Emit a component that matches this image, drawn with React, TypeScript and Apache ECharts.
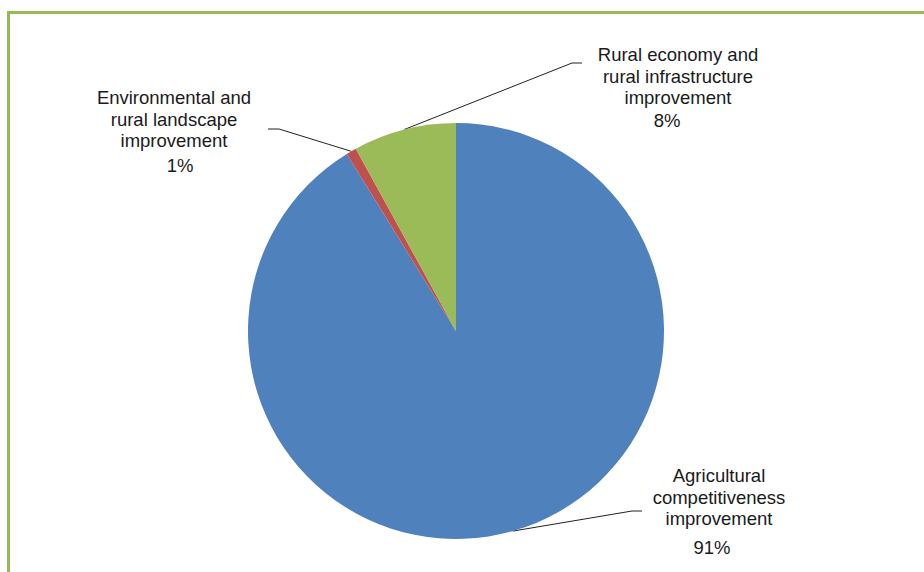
import React, { useEffect, useRef } from "react";
import * as echarts from "echarts";

const categories = [
  "Agricultural competitiveness improvement",
  "Environmental and rural landscape improvement",
  "Rural economy and rural infrastructure improvement",
];
const shares = [91.2, 0.8, 8.0];
const labelLines = [
  ["Agricultural", "competitiveness", "improvement"],
  ["Environmental and", "rural landscape", "improvement"],
  ["Rural economy and", "rural infrastructure", "improvement"],
];
const colors = ["#4F81BD", "#C0504D", "#9BBB59"];

// label placement (styling/layout only)
const labelPlaces = [
  { x: 719, y: 465, elbow: [632, 511], end: [642, 511] },
  { x: 174, y: 87, elbow: [279, 129], end: [268, 129] },
  { x: 678, y: 44, elbow: [572, 63], end: [582, 63] },
];

const CENTER: [number, number] = [456, 331];
const RADIUS = 208;

export default function App() {
  const ref = useRef<HTMLDivElement>(null);
  useEffect(() => {
    if (!ref.current) return;
    const chart = echarts.init(ref.current, undefined, { renderer: "svg" });
    const total = shares.reduce((a, b) => a + b, 0);
    const option: any = {
      animation: false,
      backgroundColor: "#ffffff",
      textStyle: { fontFamily: "'Liberation Sans', Arial, sans-serif" },
      graphic: [
        { type: "rect", shape: { x: 7, y: 11, width: 930, height: 3 }, style: { fill: "#95b955" } },
        { type: "rect", shape: { x: 7, y: 11, width: 3, height: 580 }, style: { fill: "#95b955" } },
      ],
      series: [
        {
          type: "pie",
          center: CENTER,
          radius: RADIUS,
          startAngle: 90,
          clockwise: true,
          data: categories.map((name, i) => ({
            name,
            value: shares[i],
            itemStyle: { color: colors[i] },
          })),
          label: {
            show: true,
            position: "outside",
            color: "#1a1a1a",
            fontFamily: "'Liberation Sans', Arial, sans-serif",
            fontSize: 18.5,
            formatter: (p: any) => {
              const lines = labelLines[p.dataIndex].map((l) => `{n|${l}}`);
              const pct = Math.round((p.value / total) * 100);
              return lines.join("\n") + `\n{p${p.dataIndex}|${pct}%}`;
            },
            rich: {
              n: { fontSize: 18.5, lineHeight: 21.5, color: "#1a1a1a", align: "center" },
              p0: { fontSize: 18.5, lineHeight: 36.5, color: "#1a1a1a", align: "center", padding: [0, 14, 0, 0] },
              p1: { fontSize: 18.5, lineHeight: 28.5, color: "#1a1a1a", align: "center", padding: [0, 0, 0, 12] },
              p2: { fontSize: 18.5, lineHeight: 24.5, color: "#1a1a1a", align: "center", padding: [0, 22, 0, 0] },
            },
          },
          labelLine: {
            show: true,
            length: 10,
            length2: 10,
            lineStyle: { color: "#222", width: 1 },
          },
          labelLayout: (params: any) => {
            const i = params.dataIndex;
            const cfg = labelPlaces[i];
            let start = params.labelLinePoints && params.labelLinePoints[0];
            if (!start) {
              let acc = 0;
              for (let k = 0; k < i; k++) acc += shares[k];
              const mid = ((acc + shares[i] / 2) / total) * Math.PI * 2;
              start = [CENTER[0] + RADIUS * Math.sin(mid), CENTER[1] - RADIUS * Math.cos(mid)];
            }
            return {
              x: cfg.x,
              y: cfg.y,
              align: "center",
              verticalAlign: "top",
              labelLinePoints: [start, cfg.elbow, cfg.end],
            };
          },
          emphasis: { disabled: true },
        },
      ],
    };
    chart.setOption(option);
    return () => chart.dispose();
  }, []);
  return (
    <div
      ref={ref}
      style={{ position: "absolute", left: 0, top: 0, width: 924, height: 572 }}
    />
  );
}
